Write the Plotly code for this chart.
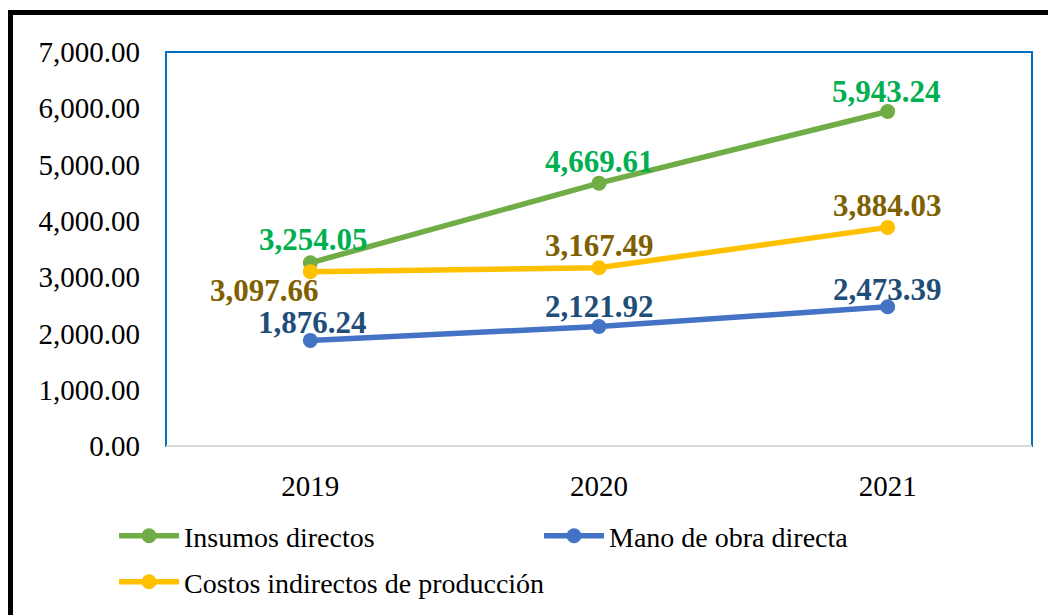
import plotly.graph_objects as go

years = [2019, 2020, 2021]
insumos = [3254.05, 4669.61, 5943.24]
mano_obra = [1876.24, 2121.92, 2473.39]
costos_ind = [3097.66, 3167.49, 3884.03]

font_family = "Liberation Serif"

# plot area in figure coordinates (page adds 8px body margin)
L, T, W, H = 158, 44, 866, 394

fig = go.Figure()
annotations = []

def add_series(name, values, line_color, label_color, offsets, legend="legend"):
    fig.add_trace(go.Scatter(
        x=years, y=values, name=name, mode="lines+markers",
        line=dict(color=line_color, width=5.5),
        marker=dict(color=line_color, size=15),
        cliponaxis=False, legend=legend,
    ))
    for xv, yv, (dx, dy) in zip(years, values, offsets):
        annotations.append(dict(
            x=xv, y=yv, xref="x", yref="y", text=f"{yv:,.2f}", showarrow=False,
            xanchor="center", yanchor="middle", xshift=dx, yshift=dy,
            font=dict(family=font_family, size=31, color=label_color, weight="bold"),
        ))

add_series("Insumos directos", insumos, "#70AD47", "#00B050",
           [(3, 23), (0, 22), (-1, 20)])
add_series("Mano de obra directa", mano_obra, "#4472C4", "#1F4E79",
           [(2, 18), (0, 20), (0, 17)])
add_series("Costos indirectos de producción", costos_ind, "#FFC000", "#7F6000",
           [(-46, -19), (0, 22), (0, 22)], legend="legend2")

legend_common = dict(orientation="h", xanchor="left", yanchor="top",
                     font=dict(family=font_family, size=28, color="black"),
                     tracegroupgap=0, itemwidth=60, bgcolor="rgba(0,0,0,0)")

fig.update_layout(
    width=1056, height=615,
    margin=dict(l=L, r=1056 - L - W, t=T, b=615 - T - H),
    paper_bgcolor="white", plot_bgcolor="white",
    font=dict(family=font_family, size=28, color="black"),
    showlegend=True,
    legend=dict(x=-0.06, y=-0.165, entrywidth=350, entrywidthmode="pixels", **legend_common),
    legend2=dict(x=-0.06, y=-0.282, entrywidth=600, entrywidthmode="pixels", **legend_common),
    xaxis=dict(type="linear", range=[years[0] - 0.5, years[-1] + 0.5],
               tickvals=years, ticktext=[str(y) for y in years],
               showgrid=False, showline=False, zeroline=False,
               ticks="", ticklabelstandoff=20, tickfont=dict(size=29)),
    yaxis=dict(range=[0, 7000], dtick=1000, showgrid=False, zeroline=False,
               tickformat=",.2f", ticks="", ticklabelstandoff=25,
               showline=False, tickfont=dict(size=29)),
    annotations=annotations,
    shapes=[
        dict(type="rect", xref="paper", yref="paper", x0=0, x1=1, y0=0, y1=1,
             line=dict(color="#0070C0", width=2), fillcolor="rgba(0,0,0,0)", layer="below"),
        dict(type="line", xref="paper", yref="paper", x0=0, x1=1, y0=0, y1=0,
             line=dict(color="#D9D9D9", width=2)),
        dict(type="rect", xref="paper", yref="paper",
             x0=(2.5 - L) / W, x1=1.3, y0=-0.6, y1=(T + H - 4.5) / H,
             line=dict(color="black", width=5), fillcolor="rgba(0,0,0,0)", layer="below"),
    ],
)

fig.write_html("out.html")
